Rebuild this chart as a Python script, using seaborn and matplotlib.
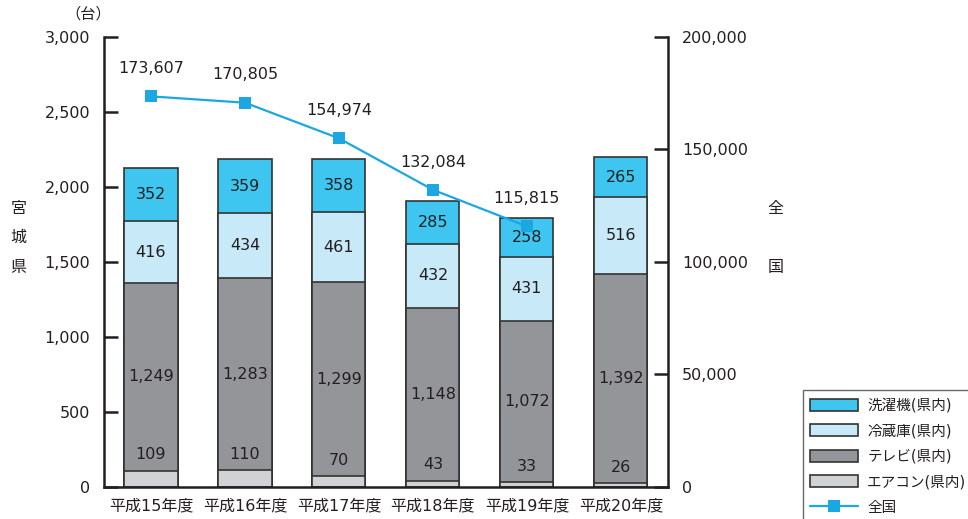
import matplotlib.pyplot as plt
import numpy as np
import pandas as pd
import seaborn as sns
from matplotlib.lines import Line2D
from matplotlib.patches import Patch

YEARS = ["平成15年度", "平成16年度", "平成17年度", "平成18年度", "平成19年度", "平成20年度"]
AIRCON = [109, 110, 70, 43, 33, 26]
TV = [1249, 1283, 1299, 1148, 1072, 1392]
FRIDGE = [416, 434, 461, 432, 431, 516]
WASHER = [352, 359, 358, 285, 258, 265]
NATIONAL = [173607, 170805, 154974, 132084, 115815]

LAYERS = [
    ("エアコン(県内)", AIRCON, "#d1d2d4"),
    ("テレビ(県内)", TV, "#939598"),
    ("冷蔵庫(県内)", FRIDGE, "#c7e9f8"),
    ("洗濯機(県内)", WASHER, "#3ec6f1"),
]
LINE_COLOR = "#1ba7e1"
INK = "#231f20"
NUM_SIZE = 11.5

sns.set_style("white")
plt.rcParams["font.family"] = ["DejaVu Sans", "Noto Sans CJK JP"]
plt.rcParams["text.color"] = INK

fig = plt.figure(figsize=(9.68, 5.19), dpi=100)
ax = fig.add_axes([0.1074, 0.0617, 0.5826, 0.867])

# stacked bars: draw cumulative totals from the top layer down
cum = np.cumsum([layer[1] for layer in LAYERS], axis=0)
for (name, vals, color), top in reversed(list(zip(LAYERS, cum))):
    df = pd.DataFrame({"year": YEARS, "value": top})
    sns.barplot(data=df, x="year", y="value", color=color, width=0.565,
                edgecolor="#333333", linewidth=1.2, saturation=1, ax=ax)

# segment labels
for i in range(len(YEARS)):
    ax.text(i, AIRCON[i] + 105, f"{AIRCON[i]:,}", ha="center", va="center", fontsize=NUM_SIZE)
    for (name, vals, color), top in list(zip(LAYERS, cum))[1:]:
        mid = top[i] - vals[i] / 2
        ax.text(i, mid, f"{vals[i]:,}", ha="center", va="center", fontsize=NUM_SIZE)

ax.set_xlim(-0.5, 5.5)
ax.set_ylim(0, 3000)
ax.set_yticks(range(0, 3001, 500))
ax.set_yticklabels([f"{v:,}" for v in range(0, 3001, 500)])
ax.set_xlabel("")
ax.set_ylabel("")
ax.set_xticks(range(len(YEARS)))
ax.set_xticklabels(YEARS)
ax.set_xticks(np.arange(0.5, 5.0, 1.0), minor=True)
ax.tick_params(axis="x", which="major", length=0, pad=8, labelsize=11.5, colors=INK)
ax.tick_params(axis="x", which="minor", direction="in", length=8, width=1.8, color=INK)
ax.tick_params(axis="y", direction="in", length=10, width=1.8, color=INK,
               labelsize=NUM_SIZE, labelcolor=INK, pad=10)
for side in ["top", "right"]:
    ax.spines[side].set_visible(False)
for side in ["left", "bottom"]:
    ax.spines[side].set_color(INK)
    ax.spines[side].set_linewidth(1.8)

ax2 = ax.twinx()
line_df = pd.DataFrame({"x": np.arange(len(NATIONAL)), "value": NATIONAL})
sns.lineplot(data=line_df, x="x", y="value", color=LINE_COLOR, linewidth=1.6,
             marker="s", markersize=9, markeredgewidth=0, ax=ax2)
for i, v in enumerate(NATIONAL):
    ax2.annotate(f"{v:,}", (i, v), xytext=(0, 20), textcoords="offset points",
                 ha="center", va="center", fontsize=NUM_SIZE)
ax2.set_ylim(0, 200000)
ax2.set_yticks(range(0, 200001, 50000))
ax2.set_yticklabels([f"{v:,}" for v in range(0, 200001, 50000)])
ax2.set_xlabel("")
ax2.set_ylabel("")
ax2.tick_params(axis="y", direction="in", length=10, width=1.8, color=INK,
                labelsize=NUM_SIZE, labelcolor=INK, pad=10)
for side in ["top", "left", "bottom"]:
    ax2.spines[side].set_visible(False)
ax2.spines["right"].set_color(INK)
ax2.spines["right"].set_linewidth(1.8)
ax2.set_xlim(-0.5, 5.5)

# axis captions
fig.text(0.091, 0.973, "（台）", ha="center", va="center", fontsize=11)
for ch, y in zip("宮城県", [0.599, 0.543, 0.484]):
    fig.text(0.019, y, ch, ha="center", va="center", fontsize=11.5)
for ch, y in zip("全国", [0.599, 0.484]):
    fig.text(0.801, y, ch, ha="center", va="center", fontsize=11.5)

handles = [Patch(facecolor=c, edgecolor="#333333", linewidth=1.2, label=n)
           for n, _, c in reversed(LAYERS)]
handles.append(Line2D([], [], color=LINE_COLOR, linewidth=1.6, marker="s",
                      markersize=9, markeredgewidth=0, label="全国"))
fig.legend(handles=handles, loc="upper left", bbox_to_anchor=(0.822, 0.262),
           frameon=True, fancybox=False, edgecolor="#444444", fontsize=10.5,
           handlelength=3.3, handleheight=0.9, labelspacing=0.72,
           borderpad=0.5, handletextpad=0.6)

fig.savefig("out.png", dpi=100)
